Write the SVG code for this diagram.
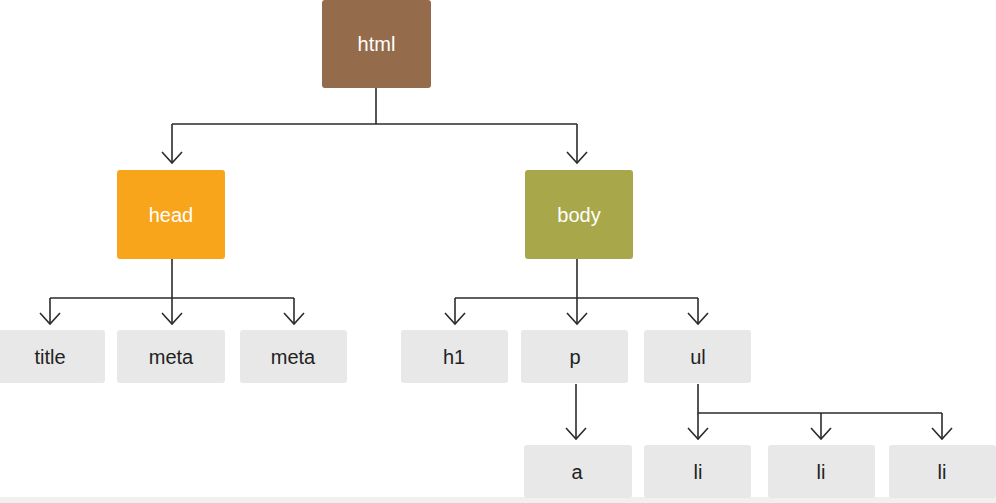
<svg xmlns="http://www.w3.org/2000/svg" width="996" height="503" viewBox="0 0 996 503">
<style>
.lbl{font-family:"Liberation Sans",Arial,sans-serif;font-size:20px;text-anchor:middle;dominant-baseline:central}
.w{fill:#ffffff}
.d{fill:#222222}
.g{fill:#e8e8e8}
.c{fill:none;stroke:#2b2b2b;stroke-width:1.6}
</style>
<defs>
<marker id="ah" markerUnits="userSpaceOnUse" markerWidth="24" markerHeight="24" refX="12" refY="12" orient="auto" viewBox="0 0 24 24">
<path d="M1,2 L12,12 L1,22" fill="none" stroke="#2b2b2b" stroke-width="1.6"/>
</marker>
</defs>
<rect x="0" y="497" width="996" height="6" fill="#f0f0f0"/>
<g id="connectors" class="c">
<path d="M376,88 V124 M172,124 H577"/>
<path d="M172,124 V163" marker-end="url(#ah)"/>
<path d="M577,124 V163" marker-end="url(#ah)"/>
<path d="M172,259 V298 M50,298 H294"/>
<path d="M50,298 V324" marker-end="url(#ah)"/>
<path d="M172,298 V324" marker-end="url(#ah)"/>
<path d="M294,298 V324" marker-end="url(#ah)"/>
<path d="M577,259 V298 M455,298 H698"/>
<path d="M455,298 V324" marker-end="url(#ah)"/>
<path d="M577,298 V324" marker-end="url(#ah)"/>
<path d="M698,298 V324" marker-end="url(#ah)"/>
<path d="M576,384 V439" marker-end="url(#ah)"/>
<path d="M698,384 V413 H942"/>
<path d="M698,413 V439" marker-end="url(#ah)"/>
<path d="M821,413 V439" marker-end="url(#ah)"/>
<path d="M942,413 V439" marker-end="url(#ah)"/>
</g>
<g id="html"><rect x="322" y="0" width="109" height="88" rx="3" fill="#946c4c"/><text class="lbl w" x="376.5" y="44">html</text></g>
<g id="head"><rect x="117" y="170" width="108" height="89" rx="3" fill="#f8a51c"/><text class="lbl w" x="171" y="215">head</text></g>
<g id="body"><rect x="525" y="170" width="108" height="89" rx="3" fill="#a8a84a"/><text class="lbl w" x="579" y="215">body</text></g>
<g id="title"><rect class="g" x="-4" y="330" width="109" height="53" rx="3"/><text class="lbl d" x="50" y="357">title</text></g>
<g id="meta1"><rect class="g" x="117" y="330" width="108" height="53" rx="3"/><text class="lbl d" x="171" y="357">meta</text></g>
<g id="meta2"><rect class="g" x="240" y="330" width="107" height="53" rx="3"/><text class="lbl d" x="293" y="357">meta</text></g>
<g id="h1"><rect class="g" x="401" y="330" width="107" height="53" rx="3"/><text class="lbl d" x="454" y="357">h1</text></g>
<g id="p"><rect class="g" x="521" y="330" width="107" height="53" rx="3"/><text class="lbl d" x="575" y="357">p</text></g>
<g id="ul"><rect class="g" x="644" y="330" width="107" height="53" rx="3"/><text class="lbl d" x="698" y="357">ul</text></g>
<g id="a"><rect class="g" x="524" y="445" width="108" height="53" rx="3"/><text class="lbl d" x="577" y="472">a</text></g>
<g id="li1"><rect class="g" x="644" y="445" width="107" height="53" rx="3"/><text class="lbl d" x="698" y="472">li</text></g>
<g id="li2"><rect class="g" x="768" y="445" width="107" height="53" rx="3"/><text class="lbl d" x="821" y="472">li</text></g>
<g id="li3"><rect class="g" x="889" y="445" width="107" height="53" rx="3"/><text class="lbl d" x="942" y="472">li</text></g>
</svg>
